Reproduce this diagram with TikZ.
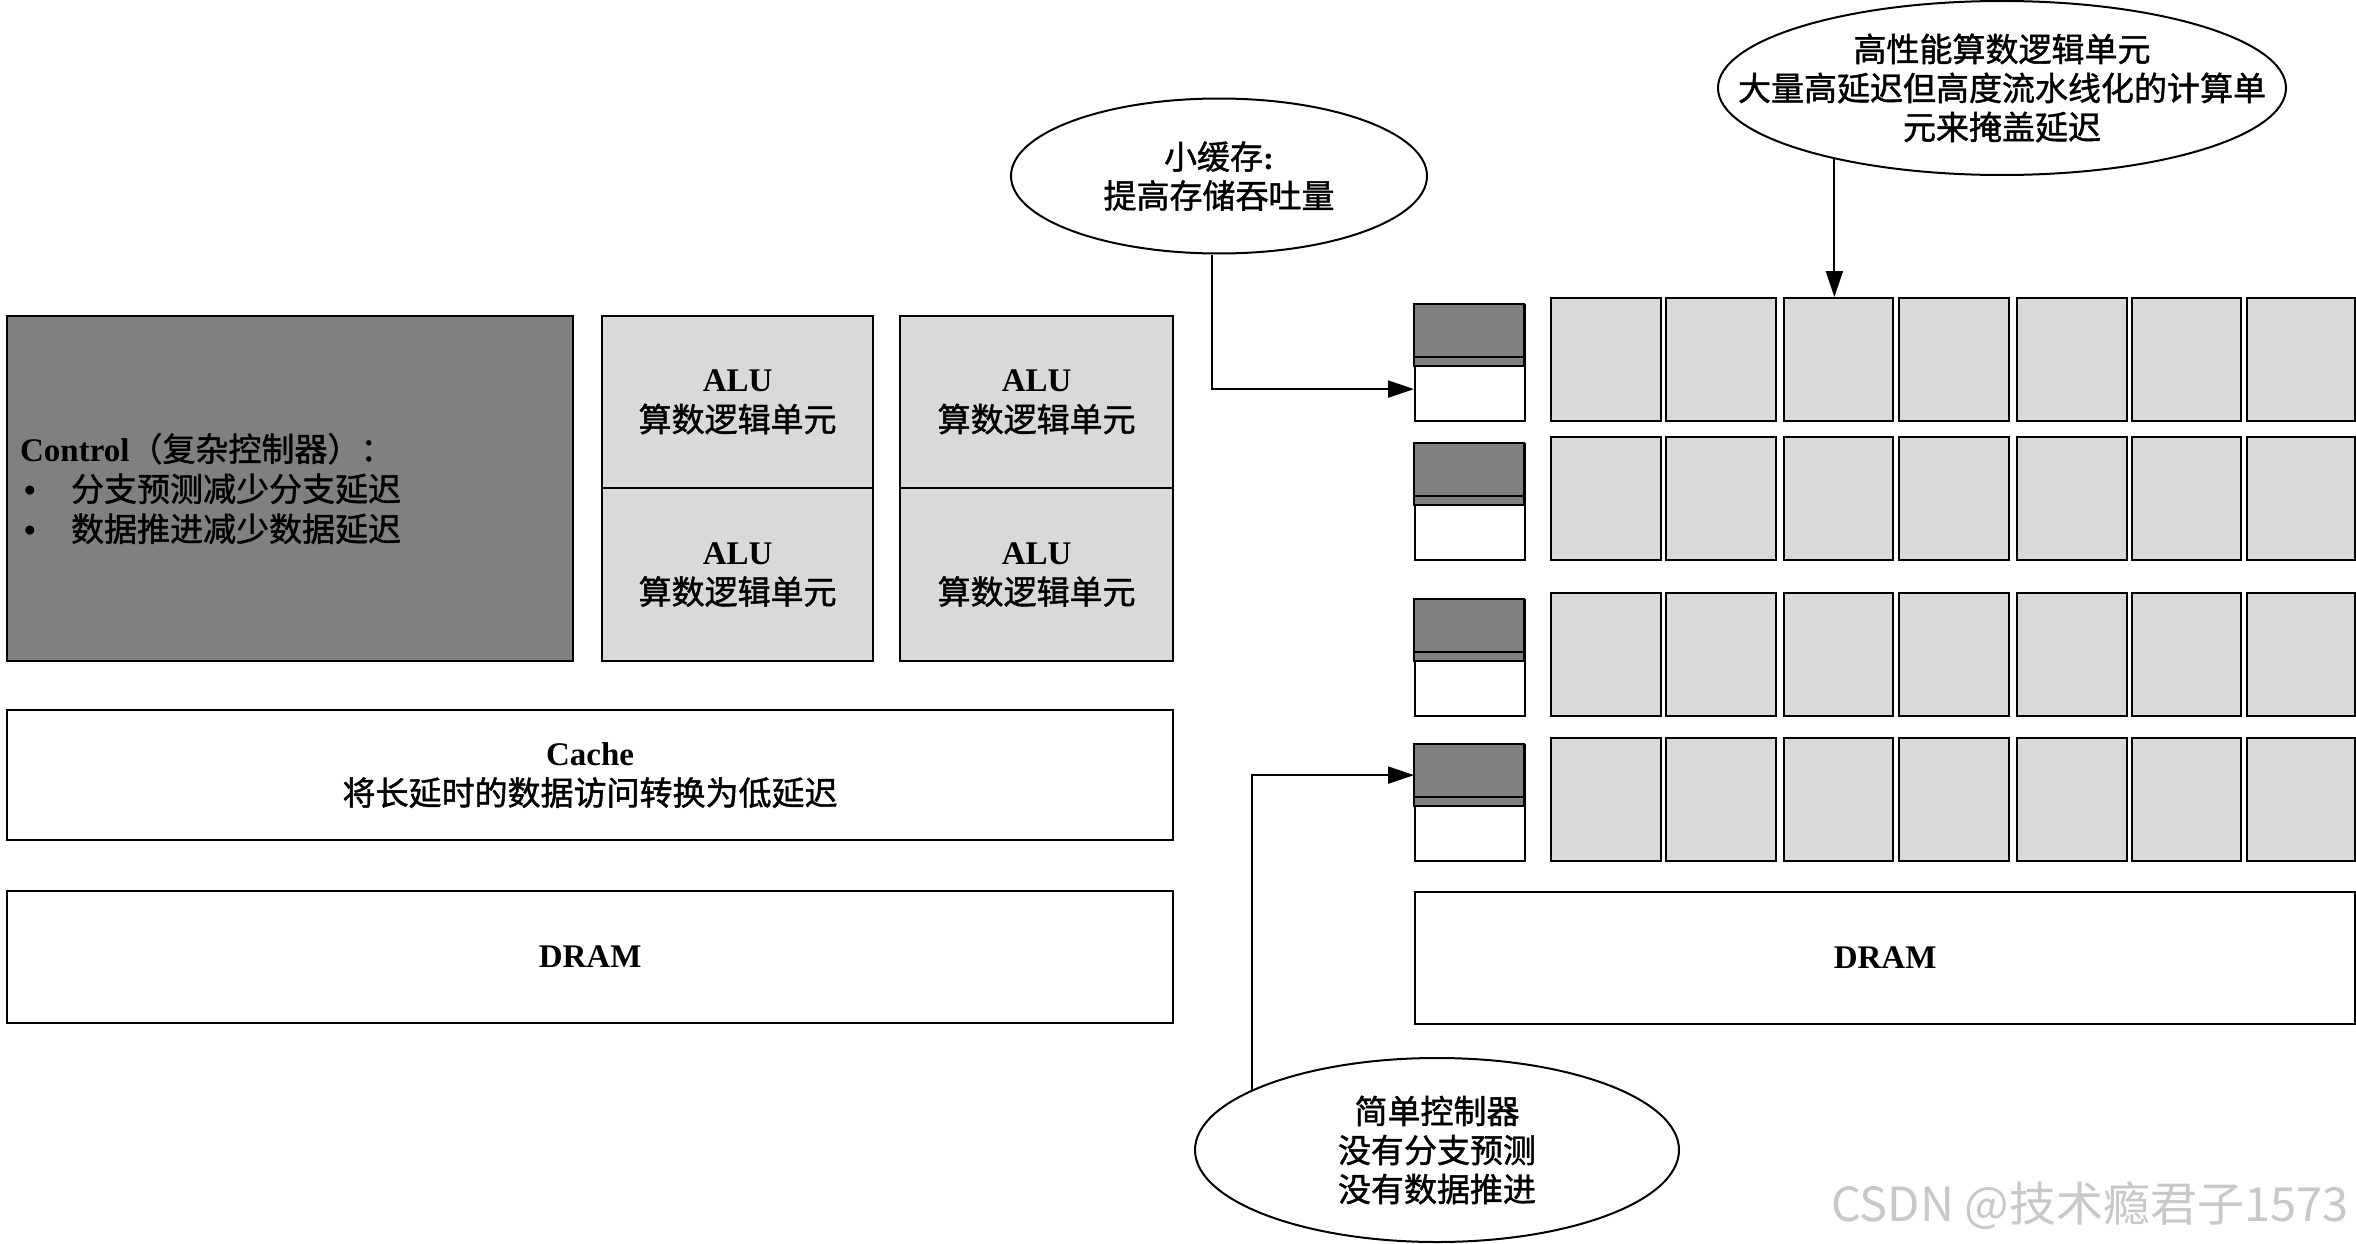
\documentclass[tikz,border=0pt]{standalone}
\usepackage{fontspec}
\setmainfont{Liberation Serif}
\newfontfamily\cjk{Noto Sans CJK SC}[FakeBold=1.3]
\newfontfamily\wmfont{Noto Sans CJK SC}
\newcommand\zhtxt[1]{{\cjk\mdseries #1}}
\usetikzlibrary{shapes.geometric,arrows.meta}
\definecolor{ctrlgray}{HTML}{808080}
\definecolor{alugray}{HTML}{D9D9D9}
\definecolor{wmgray}{HTML}{C8C8C8}
\tikzset{
  box/.style={draw=black, line width=2.2pt, inner sep=0pt, anchor=north west, align=center,
              font=\fontsize{33}{40}\selectfont\bfseries},
  ctrlbox/.style={box, fill=ctrlgray},
  alubox/.style={box, fill=alugray},
  membox/.style={box, fill=white},
  bubble/.style={draw=black, line width=2pt, ellipse, fill=white, inner sep=0pt, align=center,
                 font=\fontsize{33}{39}\selectfont\bfseries},
  conn/.style={line width=2.2pt, -{Triangle[length=26pt,width=17pt]}},
}
\begin{document}
\begin{tikzpicture}[x=1pt,y=-1pt]
\useasboundingbox (0,0) rectangle (2356,1244);
\fill[white] (0,0) rectangle (2356,1244);

% ---------------- left: CPU ----------------
\node[ctrlbox, minimum width=566pt, minimum height=345pt, align=left, text width=540pt, inner xsep=12pt]
  (ctrl) at (6,315) {Control\zhtxt{（复杂控制器）：}\\
  \makebox[51pt][l]{\hspace{4pt}•}\zhtxt{分支预测减少分支延迟}\\
  \makebox[51pt][l]{\hspace{4pt}•}\zhtxt{数据推进减少数据延迟}};
\node[alubox, minimum width=271pt, minimum height=172pt] (alu11) at (601,315) {ALU\\\zhtxt{算数逻辑单元}};
\node[alubox, minimum width=271pt, minimum height=173pt] (alu21) at (601,487) {ALU\\\zhtxt{算数逻辑单元}};
\node[alubox, minimum width=273pt, minimum height=172pt] (alu12) at (899,315) {ALU\\\zhtxt{算数逻辑单元}};
\node[alubox, minimum width=273pt, minimum height=173pt] (alu22) at (899,487) {ALU\\\zhtxt{算数逻辑单元}};
\node[membox, minimum width=1166pt, minimum height=130pt] (cache) at (6,709) {Cache\\\zhtxt{将长延时的数据访问转换为低延迟}};
\node[membox, minimum width=1166pt, minimum height=132pt] (dramL) at (6,890) {DRAM};

% ---------------- right: GPU ----------------
\foreach \rr/\t/\b in {1/297/420, 2/436/559, 3/592/715, 4/737/860} {
  \pgfmathsetmacro\st{\t+7}
  \pgfmathsetmacro\sh{\b-\t-7}
  \pgfmathsetmacro\hh{\b-\t}
  \node[membox, minimum width=110pt, minimum height=\sh pt] (s\rr) at (1414,\st) {};
  \draw[fill=ctrlgray, line width=2pt] (s\rr.north west) rectangle ++(110,62);
  \draw[line width=2pt] ([yshift=-53pt]s\rr.north west) -- ++(110,0);
  \foreach \cc/\xa/\xb in {1/1550/1660, 2/1665/1775, 3/1783/1892, 4/1898/2008, 5/2016/2126, 6/2131/2240, 7/2246/2354} {
    \pgfmathsetmacro\ww{\xb-\xa}
    \node[alubox, minimum width=\ww pt, minimum height=\hh pt] (g\rr\cc) at (\xa,\t) {};
  }
}
\node[membox, minimum width=940pt, minimum height=132pt] (dramR) at (1414,891) {DRAM};

% ---------------- callouts ----------------
\node[bubble, minimum width=416pt, minimum height=155pt] (e1) at (1219,176) {\zhtxt{小缓存}:\\\zhtxt{提高存储吞吐量}};
\node[bubble, minimum width=568pt, minimum height=174pt] (e2) at (2002,88)
  {\makebox[0pt]{\zhtxt{高性能算数逻辑单元}}\\\makebox[0pt]{\zhtxt{大量高延迟但高度流水线化的计算单}}\\\makebox[0pt]{\zhtxt{元来掩盖延迟}}};
\node[bubble, minimum width=484pt, minimum height=184pt] (e3) at (1437,1150)
  {\zhtxt{简单控制器}\\\zhtxt{没有分支预测}\\\zhtxt{没有数据推进}};

\draw[conn] ([xshift=-7pt]e1.south) |- ([yshift=-26pt]s1.west);
\draw[conn] (e2.203.3) -- (e2.203.3 |- g13.north);
\draw[conn] (e3.162.2) |- ([yshift=28pt]s4.west);

% watermark
\node[font=\wmfont\fontsize{47}{47}\selectfont, text=wmgray, anchor=east] (wm) at (2352,1206) {CSDN @技术瘾君子1573};
\end{tikzpicture}
\end{document}
